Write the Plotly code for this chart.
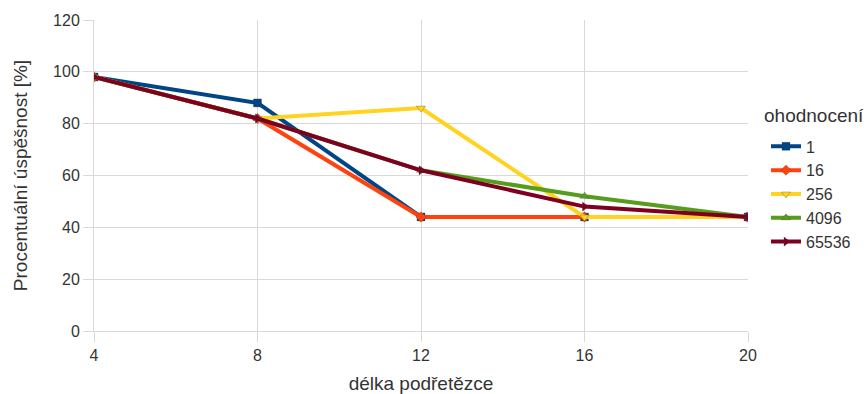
import plotly.graph_objects as go

# Substring length (x) and success rate per evaluation count
delka = [4, 8, 12, 16, 20]
serie_nazvy = ["1", "16", "256", "4096", "65536"]
uspesnost_1 = [98, 88, 44, 44, 44]
uspesnost_16 = [98, 82, 44, 44, 44]
uspesnost_256 = [98, 82, 86, 44, 44]
uspesnost_4096 = [98, 82, 62, 52, 44]
uspesnost_65536 = [98, 82, 62, 48, 44]

x_ticks = [4, 8, 12, 16, 20]
y_ticks = [0, 20, 40, 60, 80, 100, 120]

barvy = ["#004586", "#ff420e", "#ffd320", "#579d1c", "#7e0021"]
znacky = ["square", "diamond", "triangle-down", "triangle-up", "triangle-right"]
hodnoty = [uspesnost_1, uspesnost_16, uspesnost_256, uspesnost_4096, uspesnost_65536]

fig = go.Figure()
for nazev, y, barva, znacka in zip(serie_nazvy, hodnoty, barvy, znacky):
    fig.add_trace(go.Scatter(
        x=delka, y=y, name=nazev, mode="lines+markers",
        line=dict(color=barva, width=4),
        marker=dict(symbol=znacka, size=8, color=barva,
                    line=dict(color="rgba(60,60,60,0.6)", width=0.5)),
    ))

font_family = "Liberation Sans, Arial, sans-serif"
text_color = "#333333"
grid_color = "#d9d9d9"

# Legend heading drawn as its own label above the entries
fig.add_annotation(
    text="ohodnocení", xref="paper", yref="paper",
    x=1.0207, y=0.694, xanchor="left", yanchor="middle",
    showarrow=False, font=dict(size=19, color=text_color, family=font_family),
)

fig.update_layout(
    width=868, height=394,
    margin=dict(l=94, r=120, t=20, b=63, autoexpand=False),
    paper_bgcolor="white", plot_bgcolor="white",
    font=dict(family=font_family, size=16, color=text_color),
    showlegend=True,
    legend=dict(
        x=1.0275, xanchor="left", y=0.648, yanchor="top",
        font=dict(size=16, color=text_color),
        tracegroupgap=0, itemwidth=30,
        bgcolor="rgba(0,0,0,0)",
    ),
    xaxis=dict(
        range=[4, 20], tickvals=x_ticks, showgrid=True, gridcolor=grid_color,
        gridwidth=1, zeroline=False, showline=True, linecolor=grid_color,
        ticks="outside", ticklen=10, tickcolor=grid_color, automargin=False,
        title=dict(text="délka podřetězce", font=dict(size=19), standoff=15),
        tickfont=dict(size=16),
    ),
    yaxis=dict(
        range=[0, 120], tickvals=y_ticks, showgrid=True, gridcolor=grid_color,
        gridwidth=1, zeroline=False, showline=True, linecolor=grid_color,
        ticks="outside", ticklen=10, tickcolor=grid_color, automargin=False,
        title=dict(text="Procentuální úspěšnost [%]", font=dict(size=19), standoff=20),
        tickfont=dict(size=16),
    ),
)

fig.write_html("out.html")
